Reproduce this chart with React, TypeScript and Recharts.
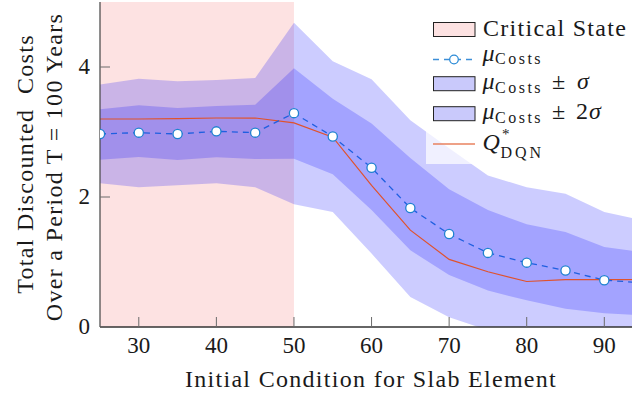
import React from "react";
import {
  ComposedChart,
  Area,
  Line,
  XAxis,
  YAxis,
  ReferenceArea,
} from "recharts";

// ---- data ----
const xs = [25, 30, 35, 40, 45, 50, 55, 60, 65, 70, 75, 80, 85, 90, 95];
const muCosts = [2.97, 2.99, 2.97, 3.01, 2.99, 3.29, 2.93, 2.45, 1.83, 1.43, 1.14, 0.99, 0.87, 0.72, 0.68];
const qDqn = [3.2, 3.2, 3.205, 3.215, 3.215, 3.14, 2.92, 2.18, 1.49, 1.04, 0.85, 0.7, 0.73, 0.73, 0.73];
const sigmaLow = [2.575, 2.615, 2.57, 2.61, 2.585, 2.59, 2.35, 1.8, 1.18, 0.8, 0.56, 0.41, 0.28, 0.21, 0.18];
const sigmaHigh = [3.35, 3.41, 3.37, 3.4, 3.42, 3.98, 3.51, 3.13, 2.6, 2.12, 1.8, 1.58, 1.46, 1.23, 1.15];
const twoSigmaLow = [2.21, 2.15, 2.18, 2.21, 2.15, 1.89, 1.77, 1.13, 0.46, 0.15, -0.05, -0.17, -0.31, -0.33, -0.27];
const twoSigmaHigh = [3.73, 3.82, 3.78, 3.8, 3.83, 4.68, 4.09, 3.81, 3.18, 2.75, 2.33, 2.15, 2.05, 1.77, 1.64];
const xTicks = [30, 40, 50, 60, 70, 80, 90];
const yTicks = [0, 2, 4];
const criticalRange = [25, 50];
const xDomain = [25, 93.57];
const yDomain = [0, 5];

const data = xs.map((x, i) => ({
  x,
  mu: muCosts[i],
  q: qDqn[i],
  s1: [sigmaLow[i], sigmaHigh[i]],
  s2: [twoSigmaLow[i], twoSigmaHigh[i]],
}));

const FONT = '"Liberation Serif", "Times New Roman", Tinos, serif';
const TXT = "#1a1a1a";
const TICK = "#6a6a6a";
// baseline offset (in em) from the top of a line box whose height is lh em
const baseOff = (lh: number) => (lh - 1.107) / 2 + 0.891;

// HTML text placed by its baseline
const Txt = (props: any) => {
  const { x, y, size, italic, spacing = 0, anchor = "start", lh = 1, children } = props;
  const shift = anchor === "middle" ? "-50%" : anchor === "end" ? "-100%" : "0";
  return (
    <div
      style={{
        position: "absolute",
        left: x,
        top: y - baseOff(lh) * size,
        fontFamily: FONT,
        fontSize: size,
        lineHeight: `${lh * size}px`,
        fontStyle: italic ? "italic" : "normal",
        letterSpacing: spacing,
        color: TXT,
        whiteSpace: "pre",
        transform: `translateX(${shift})`,
      }}
    >
      {children}
    </div>
  );
};

const BottomTick = (p: any) => (
  <g>
    <line x1={p.x} x2={p.x} y1={p.y} y2={p.y - 10} stroke={TICK} strokeWidth={1} />
    <foreignObject x={p.x - 40} y={p.y + 26 - baseOff(1) * 23} width={80} height={30}>
      <div
        style={{
          fontFamily: FONT,
          fontSize: 23,
          lineHeight: "23px",
          textAlign: "center",
          color: TXT,
        }}
      >
        {p.payload.value}
      </div>
    </foreignObject>
  </g>
);

const TopTick = (p: any) => (
  <g>
    <line x1={p.x} x2={p.x} y1={p.y} y2={p.y + 10} stroke={TICK} strokeWidth={1} />
  </g>
);

const LeftTick = (p: any) => (
  <g>
    <line x1={p.x} x2={p.x + 10} y1={p.y} y2={p.y} stroke={TICK} strokeWidth={1} />
    <foreignObject x={p.x - 70} y={p.y + 7.5 - baseOff(1) * 23} width={60} height={30}>
      <div
        style={{
          fontFamily: FONT,
          fontSize: 23,
          lineHeight: "23px",
          textAlign: "right",
          color: TXT,
        }}
      >
        {p.payload.value}
      </div>
    </foreignObject>
  </g>
);

const MuDot = (p: any) => {
  if (p.cx == null || p.cy == null) return <g key={p.index} />;
  return (
    <circle
      key={p.index}
      cx={p.cx}
      cy={p.cy}
      r={4.6}
      fill="#ffffff"
      stroke="#1f82d0"
      strokeWidth={1.3}
    />
  );
};

const RotLabel = (props: any) => {
  const { cx, cy, size, spacing, children } = props;
  return (
    <div
      style={{
        position: "absolute",
        left: cx,
        top: cy,
        fontFamily: FONT,
        fontSize: size,
        lineHeight: `${size}px`,
        letterSpacing: spacing,
        color: TXT,
        whiteSpace: "pre",
        transform: "translate(-50%, -50%) rotate(-90deg)",
      }}
    >
      {children}
    </div>
  );
};

const LegendShapes = () => (
  <svg
    width={632}
    height={396}
    style={{ position: "absolute", left: 0, top: 0, pointerEvents: "none" }}
  >
    <rect x={426} y={12} width={206} height={152} fill="#ffffff" fillOpacity={0.7} />
    <rect x={433.5} y={22.5} width={41.5} height={14} fill="#fde2e2" stroke="#222" strokeWidth={1} />
    <line x1={433} x2={475} y1={59.5} y2={59.5} stroke="#3d8fd8" strokeWidth={1.3} strokeDasharray="6 5" />
    <circle cx={454} cy={59.5} r={4.3} fill="#fff" stroke="#2a8ad6" strokeWidth={1.2} />
    <rect x={433.5} y={76.7} width={41.5} height={14} fill="#c9c9fb" stroke="#222" strokeWidth={1} />
    <rect x={433.5} y={106.7} width={41.5} height={14} fill="#c9c9fb" stroke="#222" strokeWidth={1} />
    <line x1={433} x2={475} y1={144} y2={144} stroke="#e8825f" strokeWidth={1.5} />
  </svg>
);

const Texts = () => (
  <div style={{ position: "absolute", left: 0, top: 0, width: 632, height: 396, pointerEvents: "none" }}>
    <RotLabel cx={25} cy={164} size={24} spacing={1.3}>Total Discounted  Costs</RotLabel>
    <RotLabel cx={54} cy={167} size={24} spacing={1.3}>Over a Period T = 100 Years</RotLabel>
    <Txt x={371} y={387} size={24} spacing={1.3} anchor="middle">Initial Condition for Slab Element</Txt>

    <Txt x={483} y={36} size={24} spacing={1.3}>Critical State</Txt>

    <Txt x={482.5} y={61.5} size={24} italic lh={0.8}>μ</Txt>
    <Txt x={495} y={65} size={16} spacing={2.5} lh={0.8}>Costs</Txt>

    <Txt x={482.5} y={90} size={24} italic lh={0.8}>μ</Txt>
    <Txt x={495} y={93.5} size={16} spacing={2.5} lh={0.8}>Costs</Txt>
    <Txt x={552} y={90} size={24} lh={0.8}>±</Txt>
    <Txt x={577} y={90} size={24} italic lh={0.8}>σ</Txt>

    <Txt x={482.5} y={120} size={24} italic lh={0.8}>μ</Txt>
    <Txt x={495} y={123.5} size={16} spacing={2.5} lh={0.8}>Costs</Txt>
    <Txt x={552} y={120} size={24} lh={0.8}>±</Txt>
    <Txt x={576} y={120} size={24} lh={0.8}>2</Txt>
    <Txt x={589} y={120} size={24} italic lh={0.8}>σ</Txt>

    <Txt x={482.5} y={151} size={24} italic lh={0.8}>Q</Txt>
    <Txt x={502} y={139.5} size={15} lh={0.5}>*</Txt>
    <Txt x={500.5} y={157.5} size={16} spacing={3} lh={0.7}>DQN</Txt>
  </div>
);

export default function App() {
  return (
    <div style={{ position: "absolute", left: 0, top: 0, width: 632, height: 396, background: "#fff" }}>
      <ComposedChart
        width={632}
        height={396}
        data={data}
        margin={{ top: 2, right: 0, bottom: 0, left: 0 }}
      >
        <XAxis
          dataKey="x"
          type="number"
          domain={xDomain}
          ticks={xTicks}
          allowDataOverflow
          height={69}
          tickSize={0}
          tickMargin={0}
          tick={BottomTick}
          axisLine={{ stroke: "#333", strokeWidth: 1.4 }}
          tickLine={false}
        />
        <XAxis
          xAxisId="top"
          orientation="top"
          dataKey="x"
          type="number"
          domain={xDomain}
          ticks={xTicks}
          allowDataOverflow
          height={0}
          tickSize={0}
          tickMargin={0}
          tick={TopTick}
          axisLine={{ stroke: "#777", strokeWidth: 1.2 }}
          tickLine={false}
        />
        <YAxis
          type="number"
          domain={yDomain}
          ticks={yTicks}
          allowDataOverflow
          width={100}
          tickSize={0}
          tickMargin={0}
          tick={LeftTick}
          axisLine={{ stroke: "#444", strokeWidth: 1.2 }}
          tickLine={false}
        />
        <ReferenceArea
          x1={criticalRange[0]}
          x2={criticalRange[1]}
          y1={yDomain[0]}
          y2={yDomain[1]}
          fill="#fde2e2"
          fillOpacity={1}
          stroke="none"
          zIndex={-10}
        />
        <Area
          dataKey="s2"
          type="linear"
          stroke="none"
          fill="#0000ff"
          fillOpacity={0.2}
          isAnimationActive={false}
          activeDot={false}
        />
        <Area
          dataKey="s1"
          type="linear"
          stroke="none"
          fill="#0000ff"
          fillOpacity={0.2}
          isAnimationActive={false}
          activeDot={false}
        />
        <Line
          dataKey="q"
          type="linear"
          stroke="#e0522c"
          strokeWidth={1.2}
          dot={false}
          activeDot={false}
          isAnimationActive={false}
        />
        <Line
          dataKey="mu"
          type="linear"
          stroke="#1f5fe0"
          strokeWidth={1.3}
          strokeDasharray="6 5"
          dot={MuDot}
          activeDot={false}
          isAnimationActive={false}
        />
      </ComposedChart>
      <LegendShapes />
      <Texts />
    </div>
  );
}
